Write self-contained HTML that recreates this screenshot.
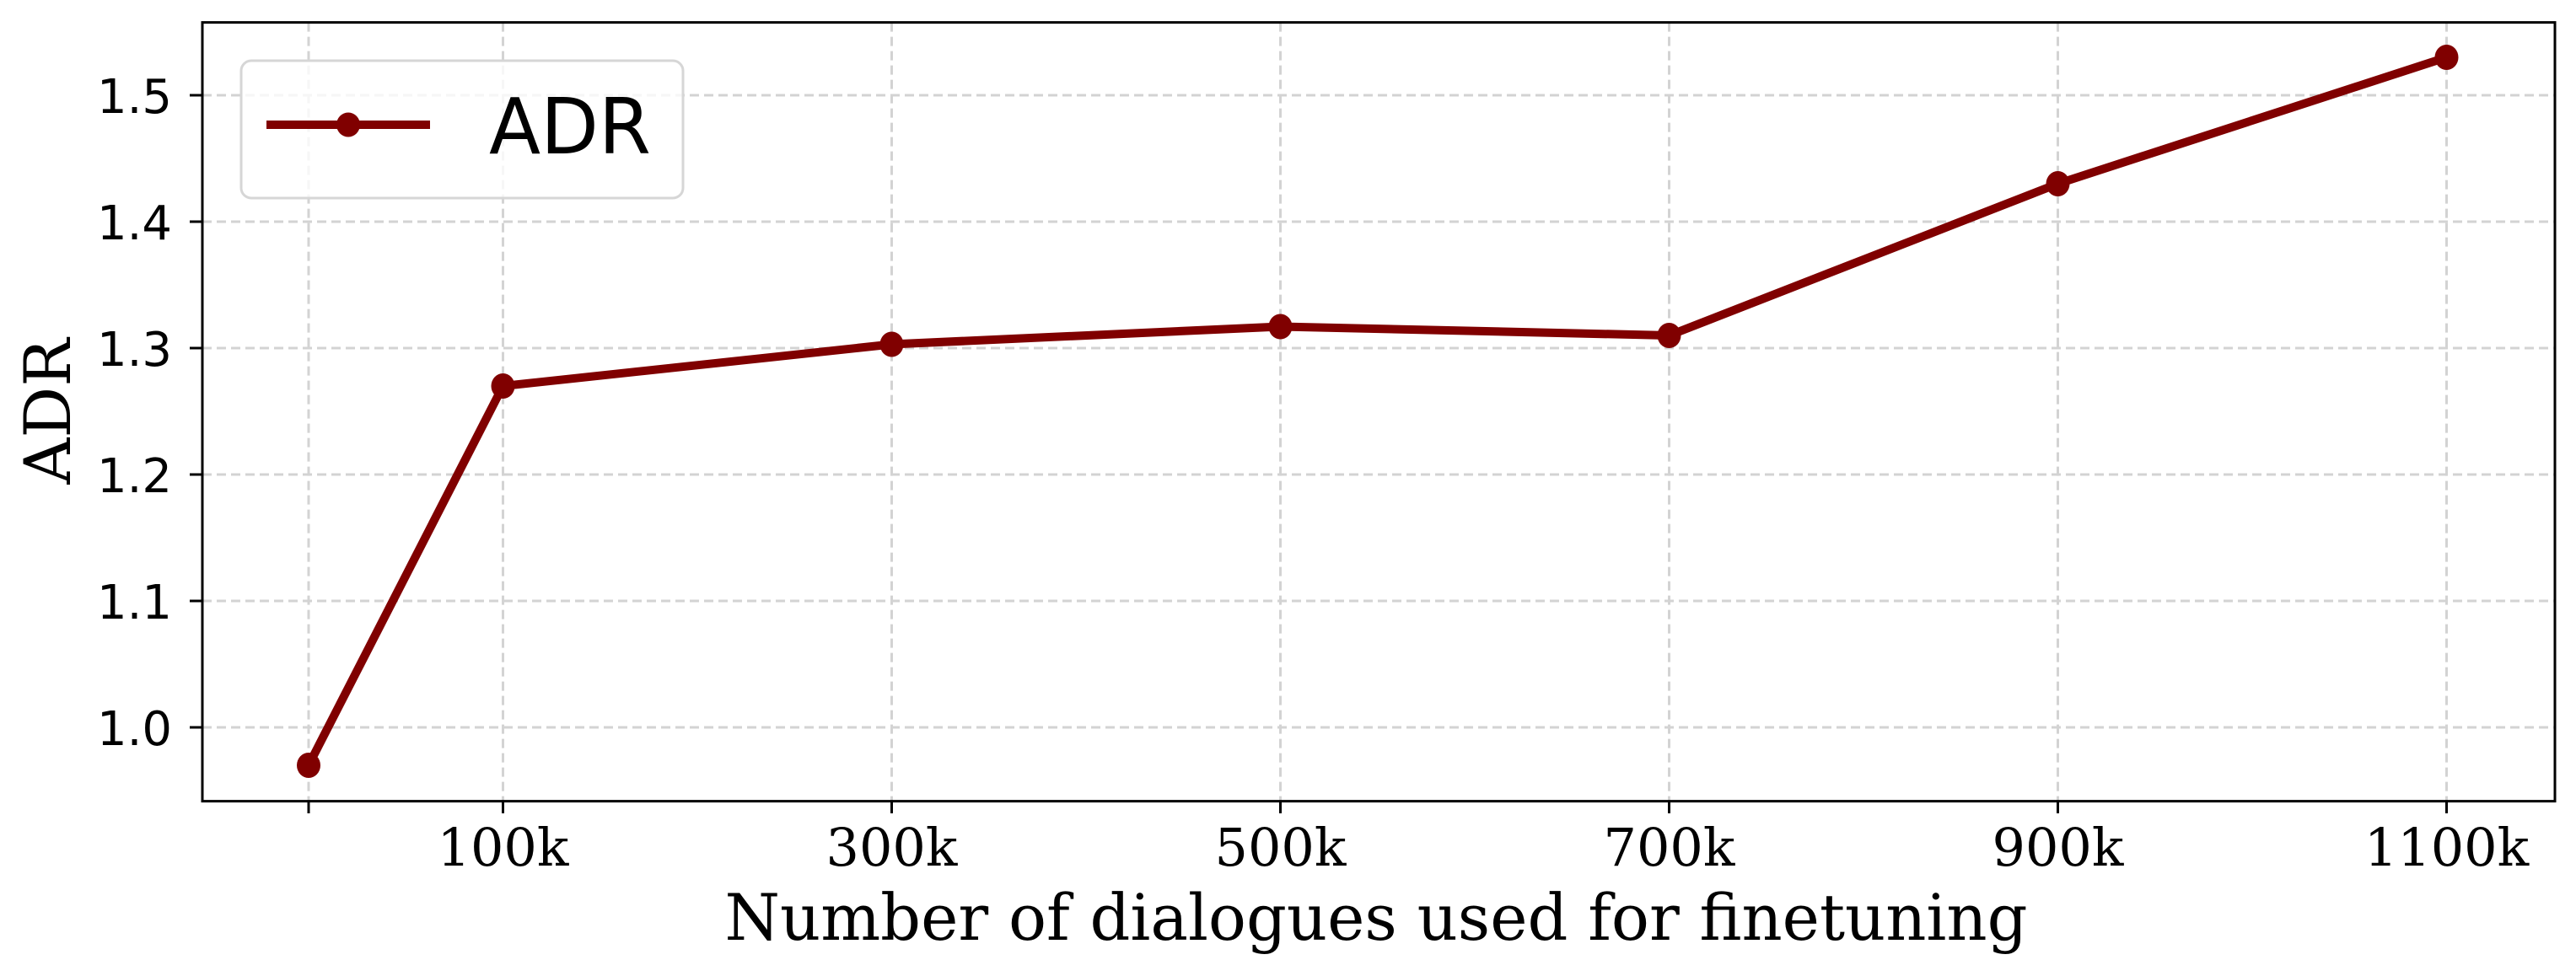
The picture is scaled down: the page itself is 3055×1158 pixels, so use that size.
<!DOCTYPE html>
<html><head><meta charset="utf-8"><style>
html,body{margin:0;padding:0;background:#fff;}
svg{display:block;}
</style></head><body>
<svg id="chart" xmlns="http://www.w3.org/2000/svg" width="3055" height="1158" viewBox="0 0 3055 1158">
<rect x="0" y="0" width="3055" height="1158" fill="#fff"/>
<g id="grid"></g>
<g id="series"></g>
<rect x="240" y="26.6" width="2790" height="924" fill="none" stroke="#000" stroke-width="3"/>
<g id="axes"></g>
<text x="1632" y="1115" text-anchor="middle" font-family="DejaVu Serif, Liberation Serif, serif" font-size="76" textLength="1545" lengthAdjust="spacingAndGlyphs">Number of dialogues used for finetuning</text>
<text transform="translate(83,488) rotate(-90)" text-anchor="middle" font-family="DejaVu Serif, Liberation Serif, serif" font-size="76">ADR</text>
<g>
<rect x="286" y="72" width="524" height="163" rx="12" fill="#fff" fill-opacity="0.8" stroke="#d6d6d6" stroke-width="3"/>
<line x1="316" y1="148" x2="510" y2="148" stroke="#800000" stroke-width="10"/>
<ellipse cx="413" cy="148" rx="14" ry="14.5" fill="#800000"/>
<text x="580" y="182" font-family="DejaVu Sans, Liberation Sans, sans-serif" font-size="92" textLength="192" lengthAdjust="spacingAndGlyphs">ADR</text>
</g>
</svg>
<script>
const categories = [0, 100, 300, 500, 700, 900, 1100];
const adrValues = [0.97, 1.27, 1.303, 1.317, 1.31, 1.43, 1.53];
const xTickValues = [0, 100, 300, 500, 700, 900, 1100];
const xTickLabels = ["", "100k", "300k", "500k", "700k", "900k", "1100k"];
const yTickValues = [1.0, 1.1, 1.2, 1.3, 1.4, 1.5];
const yTickLabels = ["1.0", "1.1", "1.2", "1.3", "1.4", "1.5"];

const NS = "http://www.w3.org/2000/svg";
function xScale(v){ return 366 + v * 2.305; }
function yScale(v){ return 863 - (v - 1.0) * 1500; }
function mk(tag, attrs, parent){
  const e = document.createElementNS(NS, tag);
  for (const k in attrs) e.setAttribute(k, attrs[k]);
  parent.appendChild(e);
  return e;
}
const grid = document.getElementById('grid');
const axes = document.getElementById('axes');
const series = document.getElementById('series');

xTickValues.forEach((v, i) => {
  const x = xScale(v);
  const g = mk('line', {x1:x, y1:26.6, x2:x, y2:950.7, stroke:'#d3d3d3', 'stroke-width':3, 'stroke-dasharray':'11 6'}, grid);
  
  
  const t = mk('line', {x1:x, y1:950.7, x2:x, y2:965, stroke:'#000', 'stroke-width':3}, axes);
  
  
  if (xTickLabels[i]) {
    const l = mk('text', {x:x, y:1027, 'text-anchor':'middle', 'font-family':'DejaVu Serif, Liberation Serif, serif', 'font-size':62}, axes);
    l.textContent = xTickLabels[i];
    
    
  }
});
yTickValues.forEach((v, i) => {
  const y = yScale(v);
  const g = mk('line', {x1:240, y1:y, x2:3030, y2:y, stroke:'#d3d3d3', 'stroke-width':3, 'stroke-dasharray':'11 6'}, grid);
  
  
  const t = mk('line', {x1:225, y1:y, x2:240, y2:y, stroke:'#000', 'stroke-width':3}, axes);
  
  
  const l = mk('text', {x:204, y:y + 21, 'text-anchor':'end', 'font-family':'DejaVu Sans, Liberation Sans, sans-serif', 'font-size':56}, axes);
  l.textContent = yTickLabels[i];
  
  
});
const pts = categories.map((c, i) => xScale(c) + ',' + yScale(adrValues[i])).join(' ');
const line = mk('polyline', {points:pts, fill:'none', stroke:'#800000', 'stroke-width':10, 'stroke-linejoin':'round'}, series);


categories.forEach((c, i) => {
  const m = mk('ellipse', {cx:xScale(c), cy:yScale(adrValues[i]), rx:14, ry:15, fill:'#800000'}, series);
  
  
});
</script>
</body></html>
